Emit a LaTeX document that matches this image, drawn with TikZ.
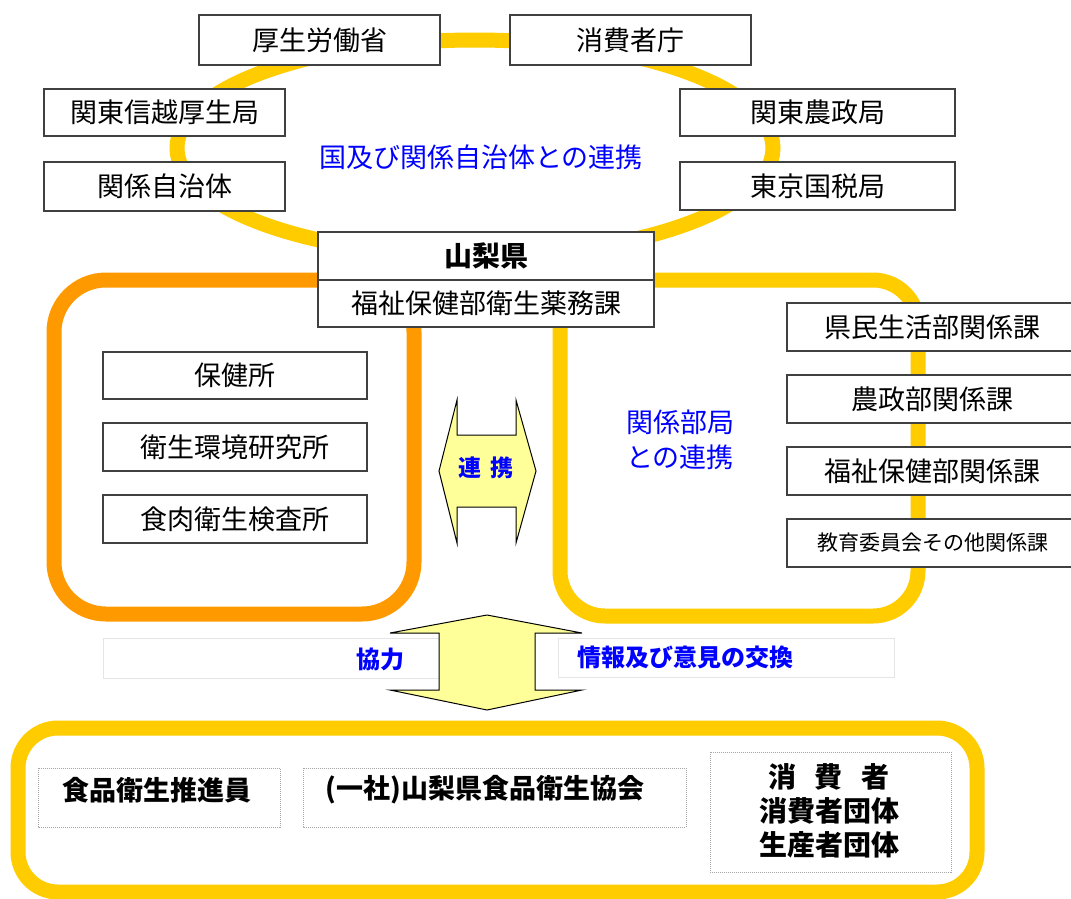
\documentclass[tikz,border=0pt]{standalone}
\usepackage{tikz}
\usetikzlibrary{positioning}
\usepackage{xcolor}
\usepackage{fontspec}
\newfontfamily\jp{Noto Sans CJK JP}
\definecolor{ringyellow}{HTML}{FFCC00}
\definecolor{ringorange}{HTML}{FF9900}
\definecolor{arrowyellow}{HTML}{FFFF99}

\begin{document}
\begin{tikzpicture}[x=1pt,y=-1pt,
	orgbox/.style={draw=black!75, line width=1.5pt, fill=white, inner sep=0pt, outer sep=0pt,
		minimum height=48pt, font=\jp\fontsize{27}{32}\selectfont},
	dotbox/.style={draw=black!35, densely dotted, line width=1pt, fill=white},
	faintbox/.style={draw=black!10, line width=1pt, fill=white},
	bluetext/.style={text=blue, font=\jp\fontsize{27}{35}\selectfont, align=center},
	boldblue/.style={text=blue, font=\jp\bfseries\fontsize{24}{28}\selectfont},
	boldtext/.style={font=\jp\bfseries\fontsize{27}{34}\selectfont, align=center},
	ring/.style={line width=15pt},
	bigarrow/.style={draw=black, line width=1pt, fill=arrowyellow, line join=miter}]
	\useasboundingbox (0,0) rectangle (1071,898);
	\fill[white] (0,0) rectangle (1071,898);

	\draw[ring, ringyellow] (475,148) ellipse [x radius=298pt, y radius=108pt];
	\draw[ring, ringorange, rounded corners=52pt] (54,280) rectangle (414,614);
	\draw[ring, ringyellow, rounded corners=45pt] (560,280) rectangle (918,616);
	\draw[ring, ringyellow, rounded corners=40pt] (18,728) rectangle (977,892);

	\node[orgbox, minimum width=241pt, minimum height=50pt] (koseirodo) at (319.5,40) {厚生労働省};
	\node[orgbox, minimum width=241pt, minimum height=50pt] (shohicho) at (630.5,40) {消費者庁};
	\node[orgbox, minimum width=241pt, minimum height=47pt] (kantoshinetsu) at (164.5,112.5) {関東信越厚生局};
	\node[orgbox, minimum width=241pt, minimum height=49pt] (jichitai) at (164.5,186.5) {関係自治体};
	\node[orgbox, minimum width=275pt, minimum height=47pt] (kantonosei) at (817.5,112.5) {関東農政局};
	\node[orgbox, minimum width=275pt] (kokuzei) at (817.5,186) {東京国税局};
	\node[bluetext] (kunirenkei) at (481,157) {国及び関係自治体との連携};

	\node[orgbox, minimum width=336pt, font=\jp\bfseries\fontsize{28}{32}\selectfont] (yamanashi) at (486,256) {山梨県};
	\node[orgbox, minimum width=336pt, minimum height=47pt, below=0pt of yamanashi] (yakumuka) {福祉保健部衛生薬務課};

	\node[orgbox, minimum width=264pt, minimum height=47pt] (hokenjo) at (235,375.5) {保健所};
	\node[orgbox, minimum width=264pt, below=24pt of hokenjo] (kankyoken) {衛生環境研究所};
	\node[orgbox, minimum width=264pt, below=24pt of kankyoken] (shokuniku) {食肉衛生検査所};

	\node[orgbox, minimum width=291pt] (kenmin) at (932.5,327) {県民生活部関係課};
	\node[orgbox, minimum width=291pt, below=24pt of kenmin] (nosei) {農政部関係課};
	\node[orgbox, minimum width=291pt, below=24pt of nosei] (fukushi) {福祉保健部関係課};
	\node[orgbox, minimum width=291pt, below=24pt of fukushi, font=\jp\fontsize{21}{25}\selectfont] (kyoiku) {教育委員会その他関係課};
	\node[bluetext] (bukyoku) at (680,440) {関係部局\\との連携};

	\draw[bigarrow] (439,471) -- (457,400) -- (457,435) -- (516,435) -- (516,400) -- (536,471)
		-- (516,543) -- (516,507) -- (457,507) -- (457,543) -- cycle;
	\node[boldblue, font=\jp\bfseries\fontsize{23}{27}\selectfont] (renkei) at (486,468) {連\hspace{0.35em}携};

	\draw[faintbox] (103,638) rectangle (440,678);
	\draw[faintbox] (558,638) rectangle (894,677);
	\node[boldblue] (kyoryoku) at (380,659) {協力};
	\node[boldblue, anchor=west] (koukan) at (574,657) {情報及び意見の交換};
	\draw[bigarrow] (487,615) -- (582,633) -- (535,633) -- (535,690) -- (582,690) -- (487,710)
		-- (390,690) -- (439,690) -- (439,633) -- (390,633) -- cycle;

	\draw[dotbox] (38,768) rectangle (280,827);
	\draw[dotbox] (303,768) rectangle (686,827);
	\draw[dotbox] (710,752) rectangle (951,872);
	\node[boldtext] (suishinin) at (157,790) {食品衛生推進員};
	\node[boldtext] (kyokai) at (485,790) {(一社)山梨県食品衛生協会};
	\node[boldtext, font=\jp\bfseries\fontsize{28}{34}\selectfont] (shohisha) at (829,811)
		{消\hspace{0.65em}費\hspace{0.65em}者\\消費者団体\\生産者団体};
\end{tikzpicture}
\end{document}
